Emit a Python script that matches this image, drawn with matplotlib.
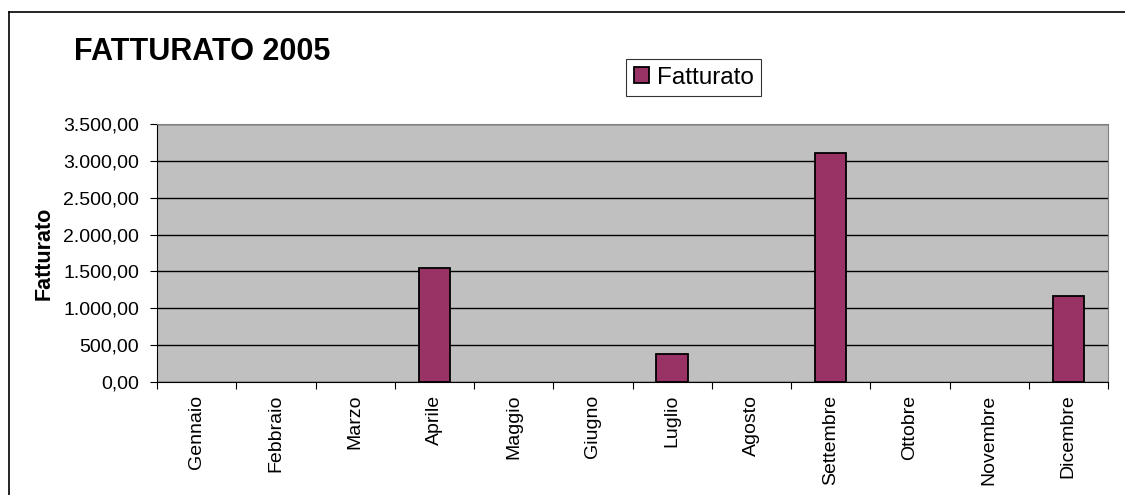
import matplotlib
matplotlib.use("Agg")
import matplotlib.pyplot as plt
from matplotlib.lines import Line2D
from matplotlib.patches import Patch
from matplotlib.ticker import FuncFormatter

months = ["Gennaio", "Febbraio", "Marzo", "Aprile", "Maggio", "Giugno",
          "Luglio", "Agosto", "Settembre", "Ottobre", "Novembre", "Dicembre"]
fatturato = [0, 0, 0, 1550, 0, 0, 380, 0, 3100, 0, 0, 1170]
yticks = [0, 500, 1000, 1500, 2000, 2500, 3000, 3500]

plt.rcParams["font.family"] = ["Liberation Sans", "DejaVu Sans"]

W, H = 1125, 495
fig = plt.figure(figsize=(W / 100, H / 100), dpi=100)

# chart area border: left and top edges (right/bottom fall outside the image)
fig.lines.append(Line2D([8.5 / W, 8.5 / W], [0, 1 - 11.5 / H], transform=fig.transFigure,
                        color="black", lw=1.2))
fig.lines.append(Line2D([8.5 / W, 1], [1 - 11.5 / H, 1 - 11.5 / H], transform=fig.transFigure,
                        color="black", lw=1.2))

ax = fig.add_axes([157 / W, 1 - 382 / H, (1108 - 157) / W, (382 - 124) / H])
ax.set_facecolor("#C0C0C0")

bar_color = "#993366"
x = range(len(months))
bars = ax.bar(x, fatturato, width=0.4, color=bar_color, edgecolor="black", lw=1.3,
              zorder=3)
for b, v in zip(bars, fatturato):
    if v == 0:
        b.set_visible(False)

ax.set_xlim(-0.5, len(months) - 0.5)
ax.set_ylim(0, 3500)
ax.set_yticks(yticks)
ax.yaxis.set_major_formatter(FuncFormatter(
    lambda v, p: f"{v:,.2f}".replace(",", "X").replace(".", ",").replace("X", ".")))
ax.grid(axis="y", color="black", lw=1.0, zorder=1)

ax.set_xticks([i + 0.5 for i in range(-1, len(months))], minor=False)
ax.set_xticklabels([])
ax.set_xticks(list(x), minor=True)
ax.set_xticklabels(months, minor=True, rotation=90, fontsize=14)
ax.tick_params(axis="x", which="minor", length=0, pad=9)
ax.tick_params(axis="x", which="major", length=5, direction="out")
ax.tick_params(axis="y", length=5, labelsize=14, pad=8)

for side in ["top", "right"]:
    ax.spines[side].set_color("#808080")
for side in ["left", "bottom"]:
    ax.spines[side].set_color("black")

fig.text(44 / W, 1 - 253 / H, "Fatturato", fontsize=15.5, fontweight="bold",
         rotation=90, va="center", ha="center")

fig.text(74 / W, 1 - 52 / H, "FATTURATO 2005", fontsize=22, fontweight="bold",
         va="center", ha="left")

handle = Patch(facecolor=bar_color, edgecolor="black", lw=1.3)
leg = fig.legend([handle], ["Fatturato"], loc="center",
                 bbox_to_anchor=(693.5 / W, 1 - 77.5 / H), fontsize=17.5,
                 frameon=True, fancybox=False, handlelength=0.65, handleheight=0.65,
                 handletextpad=0.3, borderpad=0.3, borderaxespad=0)
leg.get_frame().set_edgecolor("black")
leg.get_frame().set_linewidth(0.8)

fig.savefig("out.png", dpi=100)
